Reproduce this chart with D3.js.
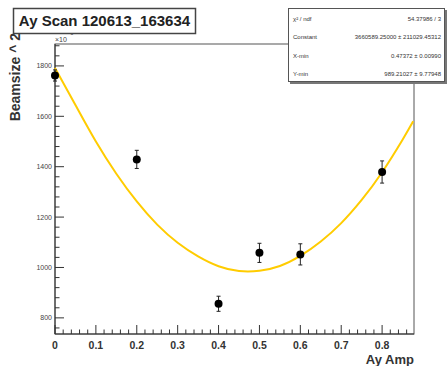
<!DOCTYPE html>
<html>
<head>
<meta charset="utf-8">
<script src="https://cdn.jsdelivr.net/npm/d3@7"></script>
<style>
  body { margin: 0; background: #fff; }
  svg { display: block; font-family: "Liberation Sans", Arial, sans-serif; }
</style>
</head>
<body>
<svg id="chart" width="448" height="366"></svg>
<script>
// measured points
const ampValues = [0, 0.2, 0.4, 0.5, 0.6, 0.8];
const beamValues = [1762, 1429, 856, 1058, 1052, 1379];
const beamErrors = [22, 36, 30, 38, 42, 44];

// fit curve
const fitX = [0, 0.05, 0.1, 0.15, 0.2, 0.25, 0.3, 0.35, 0.4, 0.45, 0.5, 0.55, 0.6, 0.65, 0.7, 0.75, 0.8, 0.85, 0.876];
const fitY = [1792, 1645, 1500, 1372, 1262, 1170, 1098, 1044, 1005, 986, 987, 1006, 1046, 1103, 1176, 1268, 1378, 1507, 1580];

const xTicks = [0, 0.1, 0.2, 0.3, 0.4, 0.5, 0.6, 0.7, 0.8];
const yTicks = [800, 1000, 1200, 1400, 1600, 1800];

const statsLabels = ["χ² / ndf", "Constant", "X-min", "Y-min"];
const statsValues = ["54.37986 / 3", "3660589.25000 ± 211029.45312", "0.47372 ± 0.00990", "989.21027 ± 9.77948"];

const svg = d3.select('#chart');
const frame = {left: 55, right: 414, top: 44, bottom: 334};

const xScale = d3.scaleLinear().domain([0, 0.878]).range([frame.left, frame.right]);
const yScale = d3.scaleLinear().domain([736, 1887]).range([frame.bottom, frame.top]);

// frame
svg.append('rect')
  .attr('x', frame.left).attr('y', frame.top)
  .attr('width', frame.right - frame.left).attr('height', frame.bottom - frame.top)
  .attr('fill', '#fff').attr('stroke', '#555').attr('stroke-width', 1);

// x axis, ticks inside
const xAxisG = svg.append('g').attr('transform', `translate(0,${frame.bottom})`);
xAxisG.selectAll('line.minor')
  .data(d3.range(0, 0.8781, 0.02))
  .join('line')
  .attr('x1', d => xScale(d)).attr('x2', d => xScale(d))
  .attr('y1', 0).attr('y2', (d, i) => i % 5 === 0 ? -9 : -4.5)
  .attr('stroke', '#333');
xAxisG.selectAll('text')
  .data(xTicks)
  .join('text')
  .attr('x', d => xScale(d)).attr('y', 15)
  .attr('text-anchor', 'middle')
  .attr('font-size', 10.5).attr('font-weight', 'bold').attr('fill', '#333')
  .text(d => d === 0 ? '0' : d3.format('.1f')(d));
svg.append('line')
  .attr('x1', frame.left).attr('x2', frame.right)
  .attr('y1', frame.bottom).attr('y2', frame.bottom)
  .attr('stroke', '#333');

// y axis
const yAxisG = svg.append('g').attr('transform', `translate(${frame.left},0)`);
yAxisG.selectAll('line.minor')
  .data(d3.range(760, 1881, 40))
  .join('line')
  .attr('x1', 0)
  .attr('x2', d => d % 200 === 0 ? 9 : 4.5)
  .attr('y1', d => yScale(d)).attr('y2', d => yScale(d))
  .attr('stroke', '#333');
yAxisG.selectAll('text')
  .data(yTicks)
  .join('text')
  .attr('x', -3).attr('y', d => yScale(d) + 2.5)
  .attr('text-anchor', 'end')
  .attr('font-size', 7).attr('fill', '#444')
  .text(d => d);
svg.append('line')
  .attr('x1', frame.left).attr('x2', frame.left)
  .attr('y1', frame.top).attr('y2', frame.bottom)
  .attr('stroke', '#333');

// exponent label
svg.append('text').attr('x', 55).attr('y', 42)
  .attr('font-size', 7).attr('fill', '#444').text('×10');
svg.append('text').attr('x', 70.5).attr('y', 35)
  .attr('font-size', 5).attr('fill', '#444').text('3');

// axis titles
svg.append('text')
  .attr('x', frame.right).attr('y', 364)
  .attr('text-anchor', 'end')
  .attr('font-size', 13).attr('font-weight', 'bold').attr('fill', '#333')
  .text('Ay Amp');
svg.append('text')
  .attr('transform', 'translate(20,33) rotate(-90)')
  .attr('text-anchor', 'end')
  .attr('font-size', 14).attr('font-weight', 'bold').attr('fill', '#333')
  .text('Beamsize ^ 2');

// fit curve
const line = d3.line().x(d => xScale(d[0])).y(d => yScale(d[1])).curve(d3.curveNatural);
svg.append('path')
  .datum(d3.zip(fitX, fitY))
  .attr('d', line)
  .attr('fill', 'none').attr('stroke', '#ffcc00').attr('stroke-width', 2);

// error bars + points
const pts = d3.zip(ampValues, beamValues, beamErrors);
const errG = svg.append('g').attr('stroke', '#222').attr('stroke-width', 1);
errG.selectAll('line.bar').data(pts).join('line')
  .attr('x1', d => xScale(d[0])).attr('x2', d => xScale(d[0]))
  .attr('y1', d => yScale(d[1] - d[2])).attr('y2', d => yScale(d[1] + d[2]));
errG.selectAll('line.capTop').data(pts).join('line').attr('class', 'capTop')
  .attr('x1', d => xScale(d[0]) - 2).attr('x2', d => xScale(d[0]) + 2)
  .attr('y1', d => yScale(d[1] + d[2])).attr('y2', d => yScale(d[1] + d[2]));
errG.selectAll('line.capBot').data(pts).join('line').attr('class', 'capBot')
  .attr('x1', d => xScale(d[0]) - 2).attr('x2', d => xScale(d[0]) + 2)
  .attr('y1', d => yScale(d[1] - d[2])).attr('y2', d => yScale(d[1] - d[2]));
svg.append('g').selectAll('circle').data(pts).join('circle')
  .attr('cx', d => xScale(d[0])).attr('cy', d => yScale(d[1]))
  .attr('r', 4).attr('fill', '#000');

// title box
svg.append('rect')
  .attr('x', 13.5).attr('y', 8.5).attr('width', 182).attr('height', 25)
  .attr('fill', '#fff').attr('stroke', '#444').attr('stroke-width', 1.5);
svg.append('text')
  .attr('x', 104.5).attr('y', 26)
  .attr('text-anchor', 'middle')
  .attr('font-size', 15).attr('font-weight', 'bold').attr('fill', '#222')
  .text('Ay Scan 120613_163634');

// stats box with shadow
svg.append('rect')
  .attr('x', 290).attr('y', 10).attr('width', 157).attr('height', 74)
  .attr('fill', '#777');
svg.append('rect')
  .attr('x', 288.5).attr('y', 8.5).attr('width', 156).attr('height', 73)
  .attr('fill', '#fff').attr('stroke', '#555').attr('stroke-width', 1);
const statsY = d3.scalePoint().domain(d3.range(statsLabels.length)).range([20.5, 76]);
svg.append('g').selectAll('text').data(statsLabels).join('text')
  .attr('x', 293).attr('y', (d, i) => statsY(i))
  .attr('font-size', 6).attr('fill', '#333')
  .text(d => d);
svg.append('g').selectAll('text').data(statsValues).join('text')
  .attr('x', 441).attr('y', (d, i) => statsY(i))
  .attr('text-anchor', 'end')
  .attr('font-size', 6).attr('fill', '#333')
  .text(d => d);
</script>
</body>
</html>
